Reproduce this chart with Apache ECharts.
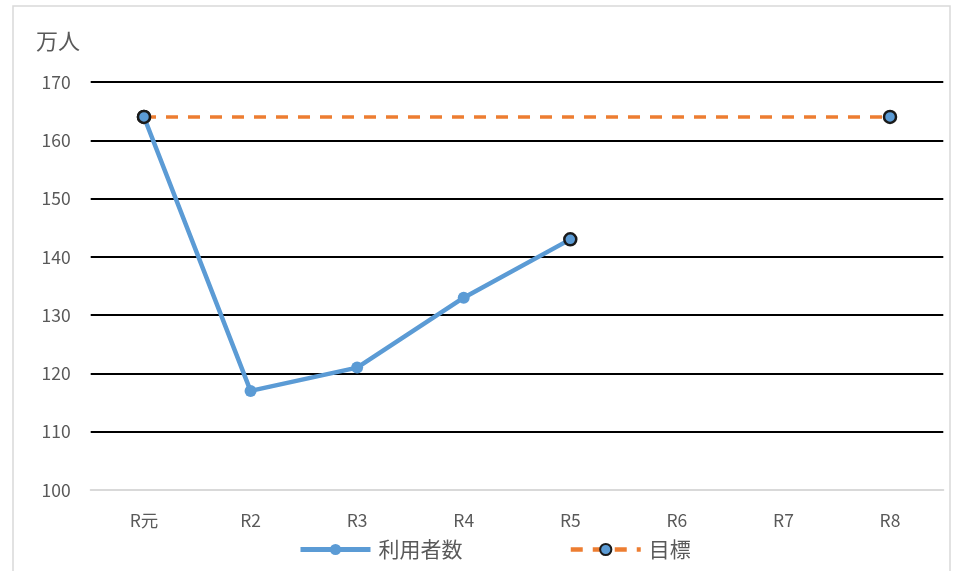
<!DOCTYPE html>
<html><head><meta charset="utf-8">
<script src="https://cdn.jsdelivr.net/npm/echarts@6/dist/echarts.min.js"></script>
<style>html,body{margin:0;padding:0;background:#fff}#c{width:953px;height:571px}</style>
</head><body><div id="c"></div>
<script>
const categories = ['R元','R2','R3','R4','R5','R6','R7','R8'];
const users = [164, 117, 121, 133, 143, null, null, null];
const target = [164, null, null, null, null, null, null, 164];
const yTicks = [100, 110, 120, 130, 140, 150, 160, 170];

const FONT = '"Noto Sans CJK JP", "Noto Sans", sans-serif';
const BLUE = '#5B9BD5', ORANGE = '#ED7D31', DARK = '#1a1a1a', GRAY = '#595959';
const highlighted = [0, 4];

const chart = echarts.init(document.getElementById('c'));
chart.setOption({
  animation: false,
  textStyle: { fontFamily: FONT },
  graphic: [{ type: 'rect', shape: { x: 13, y: 6, width: 937, height: 600 }, style: { fill: 'none', stroke: '#d9d9d9', lineWidth: 1.5 }, silent: true }],
  title: { text: '万人', left: 31, top: 25, textStyle: { fontFamily: FONT, fontSize: 22, fontWeight: 'normal', color: GRAY } },
  grid: { left: 90.7, right: 9.7, top: 82, bottom: 81 },
  legend: {
    bottom: 6, left: 293, padding: 5, itemGap: 106, itemWidth: 70, itemHeight: 14,
    textStyle: { fontFamily: FONT, fontSize: 21, color: GRAY, padding: [0, 0, 0, 3] },
    data: [
      { name: '利用者数', lineStyle: { width: 5 } },
      { name: '目標', lineStyle: { width: 4.5 } }
    ]
  },
  xAxis: {
    type: 'category', data: categories, boundaryGap: true,
    axisLine: { lineStyle: { color: '#d9d9d9', width: 2 } },
    axisTick: { show: false },
    axisLabel: { color: GRAY, fontSize: 17.5, margin: 22, fontFamily: FONT }
  },
  yAxis: {
    type: 'value', min: yTicks[0], max: yTicks[yTicks.length - 1], interval: 10,
    axisLine: { show: false }, axisTick: { show: false },
    axisLabel: { color: GRAY, fontSize: 17.5, margin: 20, fontFamily: FONT },
    splitLine: { showMinLine: false, lineStyle: { color: '#000', width: 2 } }
  },
  series: [
    {
      name: '利用者数', type: 'line', z: 3,
      data: users.map((v, i) => highlighted.includes(i)
        ? { value: v, itemStyle: { color: BLUE, borderColor: DARK, borderWidth: 2.5 } }
        : v),
      symbol: 'circle', symbolSize: 12,
      lineStyle: { color: BLUE, width: 4.5 },
      itemStyle: { color: BLUE, borderWidth: 0 }
    },
    {
      name: '目標', type: 'line', z: 2, connectNulls: true,
      data: target,
      symbol: 'circle', symbolSize: 12,
      lineStyle: { color: ORANGE, width: 3.5, type: [12, 10] },
      itemStyle: { color: BLUE, borderColor: DARK, borderWidth: 2.5 }
    }
  ]
});
</script></body></html>
